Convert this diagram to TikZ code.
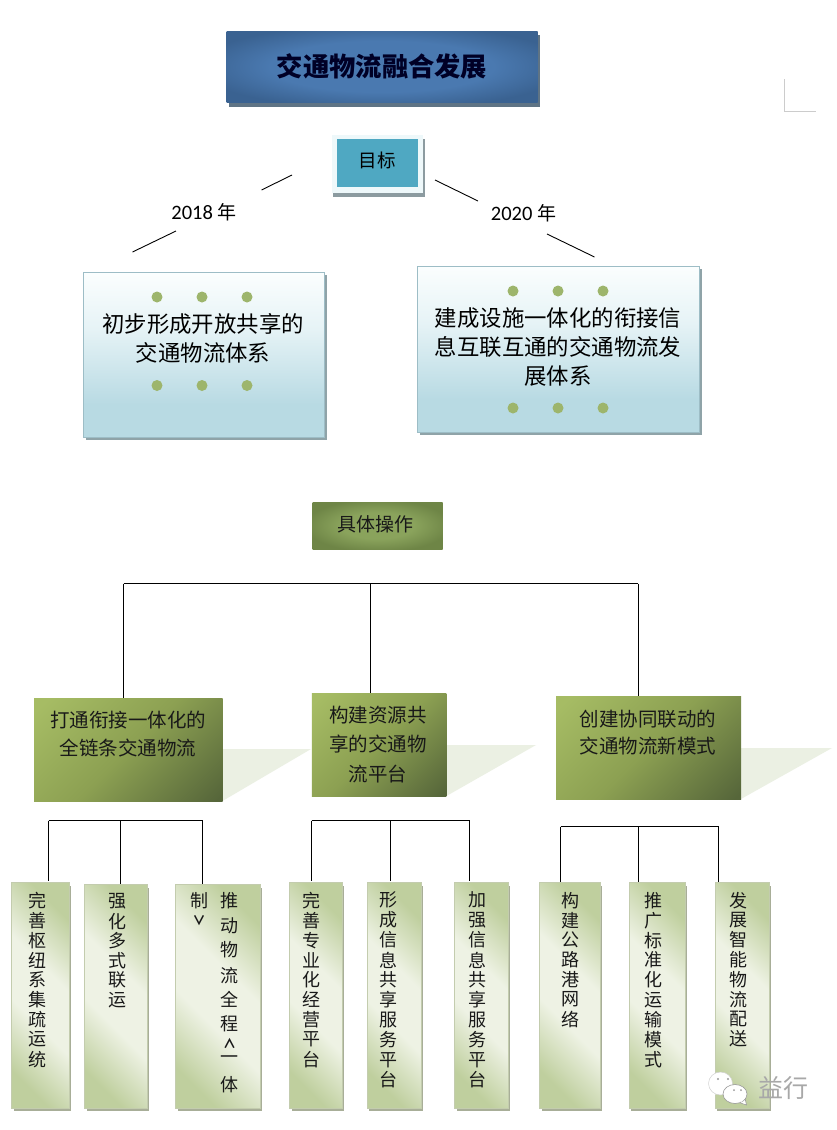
\documentclass[tikz,border=0pt]{standalone}
\usepackage{fontspec}
\setmainfont{Carlito}
\newfontfamily\cjk{Noto Sans CJK SC}
\usetikzlibrary{shadows,calc}
\definecolor{titleedge}{HTML}{3A6291}
\definecolor{titlemid}{HTML}{4A79B0}
\definecolor{titleshadow}{HTML}{5F7485}
\definecolor{tealbox}{HTML}{4FA8C2}
\definecolor{palebox}{HTML}{EEF8FA}
\definecolor{greyshadow}{HTML}{8C9BA0}
\definecolor{iceborder}{HTML}{9DBDC6}
\definecolor{icetop}{HTML}{FBFEFE}
\definecolor{icemid}{HTML}{E6F3F6}
\definecolor{icebot}{HTML}{B8DAE3}
\definecolor{iceshadow}{HTML}{8FA3A8}
\definecolor{dotgreen}{HTML}{9DB56C}
\definecolor{oplight}{HTML}{A6BC64}
\definecolor{opmid}{HTML}{8CA052}
\definecolor{opdark}{HTML}{56663A}
\definecolor{opfloor}{HTML}{EBF0E3}
\definecolor{opcentre}{HTML}{8AA35C}
\definecolor{opouter}{HTML}{6E8546}
\definecolor{leafgreen}{HTML}{BFCF9E}
\definecolor{leafpale}{HTML}{EEF2E4}
\definecolor{leafshadow}{HTML}{A8AE98}
\definecolor{leafedge}{HTML}{C3CCAE}
\definecolor{markgrey}{HTML}{CCCCCC}
\definecolor{wmgrey}{HTML}{A8A8A8}
\pgfdeclareradialshading{titleshade}{\pgfpoint{0bp}{0bp}}{color(0bp)=(titlemid);color(18bp)=(titlemid);color(30bp)=(titleedge);color(50bp)=(titleedge)}
\pgfdeclareradialshading{labelshade}{\pgfpoint{0bp}{0bp}}{color(0bp)=(opcentre);color(14bp)=(opcentre);color(28bp)=(opouter);color(50bp)=(opouter)}
\pgfdeclarehorizontalshading{opshade}{100bp}{color(0bp)=(oplight);color(18bp)=(oplight);color(50bp)=(opmid);color(84bp)=(opdark);color(100bp)=(opdark)}
\pgfdeclarehorizontalshading{leafshade}{100bp}{color(0bp)=(leafgreen);color(24bp)=(leafgreen);color(42bp)=(leafpale);color(58bp)=(leafpale);color(76bp)=(leafgreen);color(100bp)=(leafgreen)}
\pgfdeclareverticalshading{iceshade}{100bp}{color(0bp)=(icebot);color(25bp)=(icebot);color(35bp)=(icebot);color(58bp)=(icemid);color(75bp)=(icetop);color(100bp)=(icetop)}
\tikzset{
  every node/.style={inner sep=0pt,outer sep=0pt},
  bar/.style={draw=black,line width=0.9pt},
  tick/.style={draw=black,line width=0.9pt},
  leaf/.style={rectangle,shading=leafshade,shading angle=45,draw=leafedge,line width=0.6pt},
  opbox/.style={rectangle,shading=opshade,shading angle=-45},
  icebox/.style={rectangle,shading=iceshade,draw=iceborder,line width=1.5pt},
  dot/.style={circle,fill=dotgreen,minimum width=11pt},
  icetext/.style={font=\cjk\fontsize{22.4}{26}\selectfont,text=black},
  optext/.style={font=\cjk\fontsize{19.5}{22}\selectfont,text=black!90},
  ch/.style={font=\cjk\fontsize{18}{20}\selectfont,text=black!90},
}
\newcommand{\vtext}[5]{%
  \foreach \c [count=\i from 0] in {#5} {\node[ch,anchor=center] at (#1,{#2+\i*#3}) {\c};}}
\begin{document}
\begin{tikzpicture}[x=1pt,y=-1pt]
\useasboundingbox (0,0) rectangle (837,1130);
\fill[white] (0,0) rectangle (837,1130);
% crop mark
\coordinate (ma) at (784,79); \coordinate (mb) at (784,111); \coordinate (mc) at (816,111);
\draw[markgrey,line width=0.9pt] (ma) -- (mb) -- (mc);
% title
\fill[titleshadow] (229,35) rectangle (540,106.5);
\node[rectangle,shading=titleshade,minimum width=311pt,minimum height=71pt] (title) at (382,66.5) {};
\node[font=\cjk\bfseries\fontsize{26.3}{30}\selectfont,text=black!85!blue] at (title.center) {交通物流融合发展};
% target
\fill[greyshadow] (333,139) rectangle (424.5,197);
\fill[palebox] (331.5,135) rectangle (423,193);
\node[rectangle,fill=tealbox,minimum width=81pt,minimum height=48pt] (goal) at (377,163) {};
\node[font=\cjk\fontsize{18.5}{22}\selectfont] at (377,160) {目标};
% year labels
\node[font=\fontsize{20.5}{22}\selectfont] (y18) at (204,212) {2018 {\cjk\fontsize{19}{22}\selectfont 年}};
\node[font=\fontsize{20.5}{22}\selectfont] (y20) at (523.5,213) {2020 {\cjk\fontsize{19}{22}\selectfont 年}};
\coordinate (a1) at (292,175); \coordinate (a2) at (261.5,190);
\coordinate (a3) at (176,231); \coordinate (a4) at (132.5,252);
\coordinate (b1) at (435,180); \coordinate (b2) at (478,201);
\coordinate (b3) at (547,234); \coordinate (b4) at (594.5,257);
\draw[tick] (a1) -- (a2); \draw[tick] (a3) -- (a4);
\draw[tick] (b1) -- (b2); \draw[tick] (b3) -- (b4);
% goal boxes
\fill[iceshadow] (85.5,275) rectangle (327,440);
\node[icebox,minimum width=241pt,minimum height=165pt] (g1) at (204,355) {};
\fill[iceshadow] (419.5,269) rectangle (702,435);
\node[icebox,minimum width=282pt,minimum height=166pt] (g2) at (558.5,349.5) {};
\foreach \x in {157,202,247} {\node[dot] at (\x,297) {}; \node[dot] at (\x,385.5) {};}
\foreach \x in {513,558,603} {\node[dot] at (\x,291) {}; \node[dot] at (\x,408) {};}
\node[icetext] at (203,324) {初步形成开放共享的};
\node[icetext] at (203,353) {交通物流体系};
\node[icetext] at (558,318) {建成设施一体化的衔接信};
\node[icetext] at (558,347) {息互联互通的交通物流发};
\node[icetext] at (558,376) {展体系};
% operations label
\node[rectangle,shading=labelshade,minimum width=130pt,minimum height=47pt] (ops) at (377.5,525.5) {};
\node[font=\cjk\fontsize{19}{22}\selectfont,text=black!90] at (375,524) {具体操作};
% floor shadows
\fill[opfloor] (222.5,749) -- (311,749) -- (222.5,801) -- cycle;
\fill[opfloor] (446.5,745) -- (536,745) -- (446.5,796) -- cycle;
\fill[opfloor] (741,748) -- (832,748) -- (741,799) -- cycle;
% operation boxes
\node[opbox,minimum width=188.5pt,minimum height=103pt] (op1) at (128.25,749.5) {};
\node[opbox,minimum width=134.5pt,minimum height=103pt] (op2) at (379,744.5) {};
\node[opbox,minimum width=185pt,minimum height=103pt] (op3) at (648.5,747.5) {};
\node[optext] at (128,720) {打通衔接一体化的};
\node[optext] at (128,748) {全链条交通物流};
\node[optext] at (378,715) {构建资源共};
\node[optext] at (378,744) {享的交通物};
\node[optext] at (378,774) {流平台};
\node[optext] at (648,719) {创建协同联动的};
\node[optext] at (648,746) {交通物流新模式};
% top connectors
\coordinate (t1) at (123.5,583.5); \coordinate (t2) at (370,583.5); \coordinate (t3) at (638,583.5);
\coordinate (e1) at (123.5,698); \coordinate (e2) at (370,693); \coordinate (e3) at (638,696);
\draw[bar] (t1) -- (t3);
\draw[bar] (t1) -- (e1); \draw[bar] (t2) -- (e2); \draw[bar] (t3) -- (e3);
% leaves
\newcommand{\leafbox}[5]{%
  \fill[leafshadow] (#2+2,#3+3) rectangle (#4+1.5,#5+2.5);
  \node[leaf,minimum width=#4pt-#2pt,minimum height=#5pt-#3pt] (#1) at ({(#2+#4)/2},{(#3+#5)/2}) {};}
\leafbox{l1}{11.5}{882.5}{69}{1108.5}
\leafbox{l2}{84.5}{884.5}{147}{1108.5}
\leafbox{l3}{175.5}{884.5}{260}{1108.5}
\leafbox{l4}{289.5}{882.5}{342}{1108.5}
\leafbox{l5}{367}{882.5}{421}{1108.5}
\leafbox{l6}{454.5}{882.5}{508}{1108.5}
\leafbox{l7}{539.5}{882.5}{600}{1108.5}
\leafbox{l8}{629}{882.5}{685}{1108.5}
\leafbox{l9}{715}{882.5}{769}{1108.5}
\vtext{37.5}{900.5}{19.85}{}{完,善,枢,纽,系,集,疏,运,统}
\vtext{117.5}{901.5}{19.7}{}{强,化,多,式,联,运}
\foreach \c/\y in {推/900.5,动/926,物/950,流/975.5,全/999.5,程/1023.5,一/1060,体/1085} {\node[ch] at (229.5,\y) {\c};}
\node[ch,font=\cjk\bfseries\fontsize{13}{15}\selectfont] at (229.5,1043) {∧};
\node[ch] at (199,900.5) {制};
\node[ch,font=\cjk\bfseries\fontsize{13}{15}\selectfont] at (199,920.5) {∨};
\vtext{311.5}{900.5}{19.85}{}{完,善,专,业,化,经,营,平,台}
\vtext{388.5}{900}{20}{}{形,成,信,息,共,享,服,务,平,台}
\vtext{477.5}{900}{20}{}{加,强,信,息,共,享,服,务,平,台}
\vtext{570.5}{900.5}{19.8}{}{构,建,公,路,港,网,络}
\vtext{653.5}{900.5}{19.85}{}{推,广,标,准,化,运,输,模,式}
\vtext{738.5}{900.5}{19.8}{}{发,展,智,能,物,流,配,送}
% lower connectors
\coordinate (u1) at (48.5,820.5); \coordinate (u2) at (120.5,820.5); \coordinate (u3) at (202.5,820.5);
\coordinate (v1) at (48.5,881); \coordinate (v2) at (120.5,884); \coordinate (v3) at (202.5,884);
\draw[bar] (u1) -- (u3); \draw[bar] (u1) -- (v1); \draw[bar] (u2) -- (v2); \draw[bar] (u3) -- (v3);
\coordinate (u4) at (311.5,820.5); \coordinate (u5) at (390.5,820.5); \coordinate (u6) at (469.5,820.5);
\coordinate (v4) at (311.5,881); \coordinate (v5) at (390.5,881); \coordinate (v6) at (469.5,881);
\draw[bar] (u4) -- (u6); \draw[bar] (u4) -- (v4); \draw[bar] (u5) -- (v5); \draw[bar] (u6) -- (v6);
\coordinate (u7) at (560.5,826.5); \coordinate (u8) at (638,826.5); \coordinate (u9) at (718.5,826.5);
\coordinate (v7) at (560.5,882); \coordinate (v8) at (638,882); \coordinate (v9) at (718.5,882);
\draw[bar] (u7) -- (u9); \draw[bar] (u7) -- (v7); \draw[bar] (u8) -- (v8); \draw[bar] (u9) -- (v9);
% watermark
\fill[white] (709,1091) -- (708,1098) -- (716,1094) -- cycle;
\fill[white,draw=black!18,line width=0.5pt] (720.5,1083.5) ellipse [x radius=12,y radius=11.5];
\fill[white,draw=black!40,line width=0.6pt] (745,1098) -- (746.5,1105) -- (739,1102.5) -- cycle;
\fill[white,draw=black!40,line width=0.6pt] (735,1094) ellipse [x radius=12,y radius=9.5];
\fill[white] (740,1097) -- (745,1098) -- (741,1102) -- cycle;
\fill[black!40] (718,1079) circle (1.1) (728,1079) circle (1.1) (734,1090) circle (1) (741,1090) circle (1);
\node[font=\cjk\fontsize{25}{28}\selectfont,text=wmgrey] at (783,1088) {益行};
\end{tikzpicture}
\end{document}
